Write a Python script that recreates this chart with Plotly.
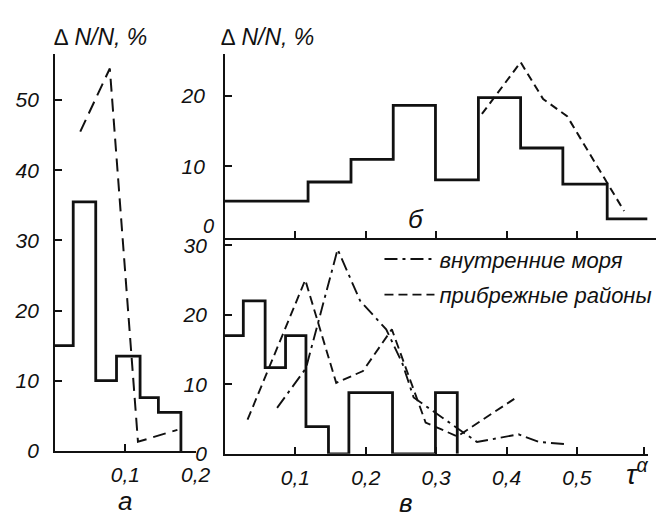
import plotly.graph_objects as go

# ---------------- data ----------------
# panel а
a_edges = [0, 0.026, 0.058, 0.0875, 0.121, 0.147, 0.179]
a_vals = [15, 35.5, 10, 13.5, 7.6, 5.5]
a_coast_x = [0.036, 0.078, 0.118, 0.174]
a_coast_y = [45.5, 54.5, 1.3, 3.0]

# panel б
b_edges = [0, 0.118, 0.179, 0.239, 0.299, 0.36, 0.42, 0.48, 0.543, 0.6]
b_vals = [5.1, 7.8, 11, 18.6, 8.1, 19.7, 12.6, 7.5, 2.6]
b_coast_x = [0.365, 0.42, 0.452, 0.486, 0.567]
b_coast_y = [17.4, 24.7, 19.5, 17.1, 3.7]

# panel в
v_edges = [0, 0.026, 0.057, 0.086, 0.115, 0.147, 0.176, 0.238, 0.299, 0.33]
v_vals = [17, 22, 12.4, 17, 3.9, 0, 8.8, 0, 8.8]
inner_x = [0.074, 0.115, 0.16, 0.192, 0.229, 0.252, 0.268, 0.328, 0.358, 0.417, 0.446, 0.483]
inner_y = [6.6, 12.3, 29.4, 22, 17.9, 13, 8.1, 3.9, 1.7, 2.8, 1.7, 1.4]
coast_x = [0.032, 0.114, 0.158, 0.196, 0.237, 0.285, 0.33, 0.411]
coast_y = [4.9, 25, 10.2, 11.9, 17.9, 4.5, 2.5, 7.9]

a_xticks = [0.1, 0.2]
a_xlabels = ["0,1", "0,2"]
a_yticks = [0, 10, 20, 30, 40, 50]
b_xticks = [0.1, 0.2, 0.3, 0.4, 0.5]
b_yticks = [10, 20]
v_xticks = [0.1, 0.2, 0.3, 0.4, 0.5, 0.596]
v_xlabels = ["0,1", "0,2", "0,3", "0,4", "0,5", " "]
v_yticks = [0, 10, 20, 30]

LEG_INNER = "внутренние моря"
LEG_COAST = "прибрежные районы"

# ---------------- style ----------------
W, H = 668, 517
FONT = "Liberation Sans"
INK = "#111111"


def fx(px):
    return px / W


def fy(py):
    return 1 - py / H


def tfont(size):
    return dict(family=FONT, size=size, color=INK, style="italic")


fig = go.Figure()

HIST_W = 2.8
fig.add_trace(go.Scatter(x=a_edges, y=a_vals + [0], mode="lines", line=dict(shape="hv", color=INK, width=HIST_W),
                         xaxis="x", yaxis="y", showlegend=False, hoverinfo="skip"))
fig.add_trace(go.Scatter(x=a_coast_x, y=a_coast_y, mode="lines", line=dict(color=INK, width=2, dash="13px,7px"),
                         xaxis="x", yaxis="y", showlegend=False, hoverinfo="skip"))

fig.add_trace(go.Scatter(x=b_edges, y=b_vals + [b_vals[-1]], mode="lines", line=dict(shape="hv", color=INK, width=HIST_W),
                         xaxis="x2", yaxis="y2", showlegend=False, hoverinfo="skip"))
fig.add_trace(go.Scatter(x=b_coast_x, y=b_coast_y, mode="lines", line=dict(color=INK, width=2, dash="8px,5px"),
                         xaxis="x2", yaxis="y2", showlegend=False, hoverinfo="skip"))

fig.add_trace(go.Scatter(x=v_edges, y=v_vals + [0], mode="lines", line=dict(shape="hv", color=INK, width=HIST_W),
                         xaxis="x3", yaxis="y3", showlegend=False, hoverinfo="skip"))
fig.add_trace(go.Scatter(x=inner_x, y=inner_y, mode="lines", name=LEG_INNER, legendgroup="g1",
                         line=dict(color=INK, width=1.9, dash="13px,5px,3px,5px"),
                         xaxis="x3", yaxis="y3", hoverinfo="skip"))
fig.add_trace(go.Scatter(x=coast_x, y=coast_y, mode="lines", name=LEG_COAST, legendgroup="g2",
                         line=dict(color=INK, width=1.9, dash="9px,5px"),
                         xaxis="x3", yaxis="y3", hoverinfo="skip"))

axis_common = dict(showline=True, linecolor=INK, linewidth=1.7, ticks="inside", ticklen=7, tickwidth=1.5,
                   tickcolor=INK, showgrid=False, zeroline=False, tickfont=tfont(21), fixedrange=True)

fig.update_layout(
    width=W, height=H, margin=dict(l=0, r=0, t=0, b=0),
    paper_bgcolor="white", plot_bgcolor="rgba(0,0,0,0)",
    xaxis=dict(axis_common, domain=[fx(48), fx(192)], range=[0, 0.2], anchor="y",
               tickvals=a_xticks, ticktext=a_xlabels, ticklabelstandoff=4,
               title=dict(text="а", font=tfont(26), standoff=6)),
    yaxis=dict(axis_common, domain=[fy(452), fy(43)], range=[0, 56.6], anchor="x",
               tickvals=a_yticks, ticklabelstandoff=10),
    xaxis2=dict(axis_common, domain=[fx(222), fx(663)], range=[0, 0.6125], anchor="y2",
                tickvals=b_xticks, showticklabels=False),
    yaxis2=dict(axis_common, domain=[fy(233), fy(43)], range=[-0.14, 25.9], anchor="x2",
                tickvals=b_yticks, ticklabelstandoff=14),
    xaxis3=dict(axis_common, domain=[fx(222), fx(655)], range=[0, 0.6014], anchor="y3",
                tickvals=v_xticks, ticktext=v_xlabels, ticklabelstandoff=4),
    yaxis3=dict(axis_common, domain=[fy(455), fy(233)], range=[0, 31], anchor="x3",
                tickvals=v_yticks, ticklabelstandoff=12),
    legend=dict(x=fx(380), y=fy(233), xanchor="left", yanchor="top", bgcolor="rgba(0,0,0,0)",
                font=tfont(22), tracegroupgap=4, itemwidth=50),
    showlegend=True,
)

ann = [
    dict(text="∆ N/N, %", x=fx(95), y=fy(26), font=tfont(23)),
    dict(text="∆ N/N, %", x=fx(265), y=fy(26), font=tfont(23)),
    dict(text="б", x=fx(417), y=fy(213), font=tfont(26)),
    dict(text="в", x=fx(407), y=fy(506), font=tfont(26)),
    dict(text="τ<sup>α</sup>", x=fx(643), y=fy(474), font=tfont(28)),
    dict(text="0", x=fx(205), y=fy(220), font=tfont(20)),
]
for a in ann:
    fig.add_annotation(xref="paper", yref="paper", showarrow=False, xanchor="center", yanchor="middle", **a)

fig.write_html("out.html")
